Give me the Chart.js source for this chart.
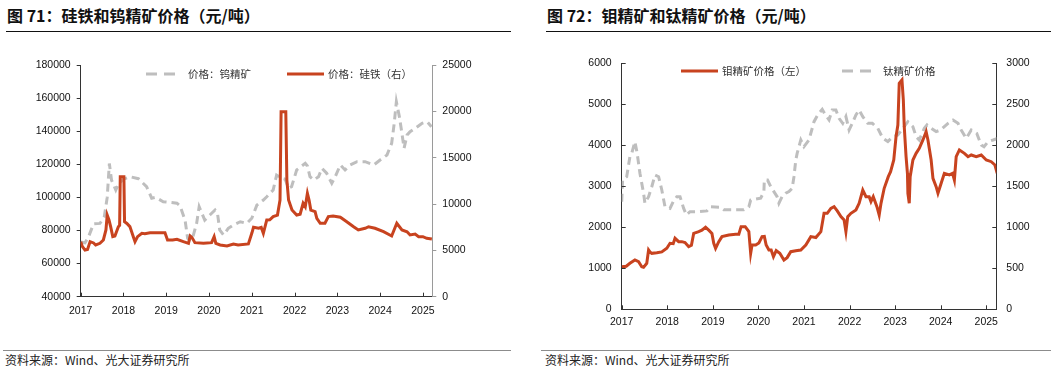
<!DOCTYPE html>
<html>
<head>
<meta charset="utf-8">
<script src="https://cdn.jsdelivr.net/npm/chart.js@4.4.1/dist/chart.umd.min.js"></script>
<style>
  body { margin: 0; background: #fff; width: 1055px; height: 371px; position: relative; overflow: hidden; font-family: "Noto Sans CJK SC", sans-serif; }
  .title { position: absolute; top: 4px; font-size: 16px; font-weight: bold; color: #111; line-height: 22px; white-space: nowrap; }
  .rule { position: absolute; height: 0; border-top: 1px solid #111; }
  .foot { position: absolute; height: 0; border-top: 1px solid #8c8c8c; }
  .src { position: absolute; top: 352px; font-size: 12px; color: #222; line-height: 16px; white-space: nowrap; }
  .legend { position: absolute; font-size: 10.5px; color: #333; line-height: 14px; white-space: nowrap; }
  .legend svg { position: absolute; top: 0; }
  .legend span { position: absolute; top: 0; }
  canvas { position: absolute; }
</style>
</head>
<body>

<div class="title" style="left:7px;">图 71：硅铁和钨精矿价格（元/吨）</div>
<div class="rule" style="left:6px; width:505px; top:31px;"></div>
<div class="title" style="left:547px;">图 72：钼精矿和钛精矿价格（元/吨）</div>
<div class="rule" style="left:546px; width:505px; top:31px;"></div>

<canvas id="chart71" width="520" height="290" style="left:0; top:40px;"></canvas>
<canvas id="chart72" width="525" height="300" style="left:530px; top:40px;"></canvas>

<!-- 图例 -->
<div class="legend" style="left:146px; top:67px;">
  <svg width="34" height="14"><line x1="0" y1="7" x2="32" y2="7" stroke="#bebebe" stroke-width="3" stroke-dasharray="11,7"/></svg>
  <span style="left:42px;">价格：钨精矿</span>
</div>
<div class="legend" style="left:287px; top:67px;">
  <svg width="38" height="14"><line x1="0" y1="7" x2="37" y2="7" stroke="#c8431f" stroke-width="3"/></svg>
  <span style="left:41px;">价格：硅铁（右）</span>
</div>
<div class="legend" style="left:681px; top:64px;">
  <svg width="38" height="14"><line x1="0" y1="7" x2="37" y2="7" stroke="#c8431f" stroke-width="3"/></svg>
  <span style="left:41px;">钼精矿价格（左）</span>
</div>
<div class="legend" style="left:842px; top:64px;">
  <svg width="32" height="14"><line x1="0" y1="7" x2="30" y2="7" stroke="#bebebe" stroke-width="3" stroke-dasharray="11,7"/></svg>
  <span style="left:41px;">钛精矿价格</span>
</div>

<div class="foot" style="left:3px; width:508px; top:350px;"></div>
<div class="src" style="left:5px;">资料来源：Wind、光大证券研究所</div>
<div class="foot" style="left:541px; width:510px; top:350px;"></div>
<div class="src" style="left:545px;">资料来源：Wind、光大证券研究所</div>

<script>
// ===== 图71 数据 =====
// 钨精矿价格（左轴，元/吨）
const tungstenX = [2017.00, 2017.10, 2017.18, 2017.30, 2017.45, 2017.55, 2017.62, 2017.67, 2017.72, 2017.82, 2017.88, 2018.00, 2018.15, 2018.35, 2018.54, 2018.66, 2018.75, 2018.93, 2019.25, 2019.32, 2019.44, 2019.50, 2019.60, 2019.71, 2019.77, 2019.90, 2020.02, 2020.14, 2020.20, 2020.25, 2020.34, 2020.45, 2020.57, 2020.73, 2020.88, 2021.00, 2021.12, 2021.27, 2021.35, 2021.50, 2021.58, 2021.70, 2021.78, 2021.86, 2021.93, 2022.05, 2022.25, 2022.30, 2022.36, 2022.45, 2022.56, 2022.64, 2022.75, 2022.87, 2022.95, 2023.07, 2023.18, 2023.30, 2023.46, 2023.65, 2023.85, 2024.00, 2024.16, 2024.27, 2024.33, 2024.38, 2024.45, 2024.51, 2024.56, 2024.63, 2024.70, 2024.82, 2024.98, 2025.10, 2025.20];
const tungstenY = [73000, 72500, 76000, 84000, 84300, 88000, 100000, 120500, 110500, 104500, 108000, 111000, 112500, 111300, 106500, 99500, 100000, 97400, 96500, 95000, 86300, 75300, 74000, 84300, 94400, 86300, 89400, 92400, 90000, 80300, 77300, 81300, 83300, 85300, 84300, 87400, 95400, 98400, 100400, 104500, 113500, 111500, 111000, 105500, 106500, 116600, 120600, 119000, 112500, 110500, 112500, 117600, 114600, 108500, 112500, 119600, 116600, 119600, 121600, 121600, 119600, 122600, 125600, 132700, 144800, 157800, 148800, 138700, 129700, 137700, 139700, 141700, 144800, 145700, 142700];

// 硅铁价格（右轴，元/吨）
const siliconX = [2017.00, 2017.04, 2017.10, 2017.16, 2017.22, 2017.30, 2017.35, 2017.45, 2017.53, 2017.59, 2017.62, 2017.66, 2017.70, 2017.75, 2017.80, 2017.88, 2017.91, 2017.925, 2018.01, 2018.025, 2018.08, 2018.15, 2018.23, 2018.27, 2018.33, 2018.43, 2018.50, 2018.62, 2018.97, 2019.03, 2019.15, 2019.25, 2019.40, 2019.52, 2019.56, 2019.60, 2019.67, 2019.87, 2020.06, 2020.12, 2020.16, 2020.26, 2020.42, 2020.57, 2020.68, 2020.92, 2021.00, 2021.04, 2021.16, 2021.22, 2021.27, 2021.35, 2021.42, 2021.50, 2021.60, 2021.66, 2021.685, 2021.795, 2021.82, 2021.86, 2021.94, 2022.05, 2022.13, 2022.20, 2022.25, 2022.30, 2022.34, 2022.38, 2022.48, 2022.52, 2022.60, 2022.71, 2022.79, 2022.90, 2023.07, 2023.22, 2023.38, 2023.49, 2023.65, 2023.73, 2023.88, 2024.08, 2024.27, 2024.39, 2024.51, 2024.63, 2024.70, 2024.82, 2024.90, 2025.00, 2025.09, 2025.21];
const siliconY = [5940, 5400, 5040, 5100, 5940, 5800, 5580, 5760, 6120, 7200, 8810, 8300, 7560, 6480, 6550, 7550, 7700, 12950, 12950, 8090, 7900, 7560, 6480, 5940, 6480, 6840, 6800, 6900, 6900, 6120, 6120, 6200, 5940, 5760, 6550, 6400, 5830, 5760, 5830, 6480, 5760, 5580, 5470, 5690, 5580, 5690, 6840, 7490, 7400, 7490, 6840, 8280, 8300, 8640, 8810, 10430, 19960, 19960, 12590, 10430, 9350, 8810, 8900, 10080, 9700, 11160, 10400, 9350, 9170, 8460, 7920, 7920, 8640, 8700, 8570, 8090, 7550, 7200, 7380, 7550, 7380, 7010, 6550, 7920, 7200, 7010, 6660, 6760, 6480, 6480, 6300, 6230];

// ===== 图72 数据 =====
// 钼精矿价格（左轴）
const molyX = [2017.00, 2017.10, 2017.18, 2017.29, 2017.37, 2017.44, 2017.48, 2017.55, 2017.59, 2017.62, 2017.66, 2017.77, 2017.88, 2017.99, 2018.06, 2018.13, 2018.17, 2018.25, 2018.32, 2018.39, 2018.47, 2018.53, 2018.58, 2018.69, 2018.76, 2018.84, 2018.91, 2018.98, 2019.02, 2019.06, 2019.13, 2019.20, 2019.35, 2019.50, 2019.57, 2019.62, 2019.71, 2019.79, 2019.83, 2019.86, 2019.94, 2020.01, 2020.08, 2020.13, 2020.17, 2020.23, 2020.28, 2020.33, 2020.39, 2020.47, 2020.56, 2020.63, 2020.71, 2020.82, 2020.93, 2021.04, 2021.15, 2021.26, 2021.37, 2021.44, 2021.51, 2021.59, 2021.66, 2021.73, 2021.81, 2021.88, 2021.92, 2021.96, 2022.03, 2022.14, 2022.21, 2022.29, 2022.36, 2022.43, 2022.47, 2022.52, 2022.60, 2022.65, 2022.69, 2022.76, 2022.85, 2022.90, 2022.97, 2023.02, 2023.06, 2023.09, 2023.15, 2023.18, 2023.20, 2023.24, 2023.27, 2023.28, 2023.31, 2023.33, 2023.39, 2023.46, 2023.53, 2023.61, 2023.68, 2023.72, 2023.79, 2023.83, 2023.90, 2023.94, 2024.01, 2024.08, 2024.19, 2024.26, 2024.30, 2024.34, 2024.41, 2024.52, 2024.60, 2024.67, 2024.78, 2024.89, 2025.00, 2025.11, 2025.19, 2025.24];
const molyY = [1039, 1050, 1122, 1202, 1160, 1039, 1024, 1122, 1446, 1400, 1365, 1380, 1400, 1488, 1610, 1600, 1732, 1650, 1650, 1630, 1528, 1560, 1854, 1894, 1930, 2000, 1930, 1850, 1610, 1488, 1650, 1772, 1813, 1830, 1830, 2016, 2016, 1894, 1365, 1569, 1569, 1620, 1772, 1780, 1569, 1447, 1447, 1284, 1430, 1365, 1202, 1260, 1406, 1430, 1447, 1569, 1772, 1750, 1894, 2341, 2341, 2463, 2504, 2400, 2260, 2178, 1894, 2260, 2341, 2422, 2585, 2910, 2747, 2747, 2626, 2747, 2504, 2300, 2585, 2951, 3235, 3357, 3642, 4210, 4495, 5512, 5593, 5106, 4454, 3722, 3317, 2829, 2585, 3235, 3642, 3804, 3927, 4130, 4332, 4130, 3642, 3195, 2991, 2829, 3073, 3317, 3280, 3317, 3154, 3722, 3886, 3804, 3722, 3764, 3722, 3764, 3642, 3600, 3520, 3317];

// 钛精矿价格（右轴）
const titaniumX = [2017.00, 2017.02, 2017.11, 2017.18, 2017.22, 2017.29, 2017.34, 2017.40, 2017.48, 2017.51, 2017.59, 2017.66, 2017.73, 2017.81, 2017.88, 2017.95, 2018.06, 2018.13, 2018.21, 2018.28, 2018.36, 2018.42, 2018.50, 2018.65, 2018.87, 2018.94, 2019.17, 2019.24, 2019.68, 2019.79, 2019.83, 2020.05, 2020.12, 2020.13, 2020.20, 2020.27, 2020.34, 2020.41, 2020.45, 2020.52, 2020.60, 2020.67, 2020.74, 2020.78, 2020.82, 2020.85, 2020.93, 2021.00, 2021.11, 2021.22, 2021.30, 2021.40, 2021.45, 2021.55, 2021.62, 2021.70, 2021.77, 2021.85, 2021.92, 2021.99, 2022.06, 2022.14, 2022.21, 2022.29, 2022.40, 2022.50, 2022.62, 2022.73, 2022.84, 2022.95, 2023.06, 2023.17, 2023.28, 2023.39, 2023.46, 2023.53, 2023.64, 2023.70, 2023.79, 2023.90, 2024.00, 2024.16, 2024.27, 2024.38, 2024.45, 2024.56, 2024.67, 2024.79, 2024.89, 2024.95, 2025.04, 2025.15, 2025.25];
const titaniumY = [1312, 1577, 1617, 1861, 1900, 2044, 1900, 1659, 1415, 1293, 1374, 1495, 1638, 1617, 1455, 1251, 1230, 1312, 1374, 1374, 1230, 1150, 1190, 1190, 1200, 1250, 1245, 1215, 1215, 1250, 1333, 1354, 1435, 1577, 1577, 1496, 1435, 1374, 1293, 1374, 1415, 1435, 1475, 1617, 1821, 1902, 2065, 1983, 2065, 2288, 2370, 2439, 2390, 2309, 2431, 2431, 2329, 2268, 2350, 2187, 2268, 2370, 2431, 2350, 2268, 2268, 2207, 2085, 2045, 2106, 2126, 2207, 2288, 2227, 2106, 2065, 2207, 2248, 2207, 2167, 2187, 2268, 2309, 2268, 2187, 2085, 2187, 2146, 2004, 1983, 2045, 2065, 2085];

const RED = '#c8431f';
const GREY = '#bebebe';
const TICK_FONT = { family: '"Liberation Sans", Arial, sans-serif', size: 10.5 };

// 把 x/y 两个数组拼成点
function toPoints(xs, ys) {
  return xs.map((x, i) => ({ x: x, y: ys[i] }));
}

// 向内的刻度线（坐标轴内侧）
const innerTicks = {
  id: 'innerTicks',
  afterDraw(chart, args, opts) {
    const ctx = chart.ctx;
    const len = opts.len || 4;
    ctx.save();
    ctx.lineWidth = 1;
    ctx.strokeStyle = opts.color || '#333';
    (opts.axes || []).forEach(id => {
      const s = chart.scales[id];
      s.ticks.forEach(t => {
        const p = Math.round(s.getPixelForValue(t.value)) + 0.5;
        ctx.beginPath();
        if (s.isHorizontal()) {
          ctx.moveTo(p, s.top);
          ctx.lineTo(p, s.top - len);
        } else if (s.position === 'left') {
          ctx.moveTo(s.right, p);
          ctx.lineTo(s.right + len, p);
        } else {
          ctx.moveTo(s.left, p);
          ctx.lineTo(s.left - len, p);
        }
        ctx.stroke();
      });
    });
    ctx.restore();
  }
};

function lineSet(label, points, color, axis, dashed) {
  return {
    label: label,
    data: points,
    borderColor: color,
    backgroundColor: color,
    borderWidth: 3,
    borderDash: dashed ? [8, 5] : [],
    pointRadius: 0,
    tension: 0,
    fill: false,
    yAxisID: axis
  };
}

function xScale(height, pad) {
  return {
    type: 'linear',
    min: 2017,
    max: 2025.22,
    afterFit: s => { s.height = height; },
    border: { display: true, color: '#333', width: 1 },
    grid: { display: true, drawOnChartArea: false, drawTicks: false },
    ticks: {
      stepSize: 1,
      includeBounds: false,
      maxRotation: 0,
      autoSkip: false,
      padding: pad,
      color: '#111',
      font: TICK_FONT,
      callback: v => String(v)
    }
  };
}

function yScale(pos, min, max, step, width, borderColor, outerTicks) {
  return {
    type: 'linear',
    position: pos,
    min: min,
    max: max,
    afterFit: s => { s.width = width; },
    border: { display: true, color: borderColor, width: 1 },
    grid: {
      display: true,
      drawOnChartArea: false,
      drawTicks: outerTicks,
      tickLength: 4,
      color: borderColor
    },
    ticks: {
      stepSize: step,
      padding: outerTicks ? 6 : 10,
      color: '#111',
      font: TICK_FONT,
      callback: v => String(v)
    }
  };
}

const baseOptions = {
  responsive: false,
  animation: false,
  events: [],
  plugins: { legend: { display: false }, tooltip: { enabled: false } }
};

// 图71：硅铁和钨精矿
new Chart(document.getElementById('chart71'), {
  type: 'line',
  data: {
    datasets: [
      lineSet('价格：硅铁（右）', toPoints(siliconX, siliconY), RED, 'yR', false),
      lineSet('价格：钨精矿', toPoints(tungstenX, tungstenY), GREY, 'yL', true)
    ]
  },
  options: Object.assign({}, baseOptions, {
    layout: { padding: { top: 25, left: 0, right: 0, bottom: 0 } },
    plugins: Object.assign({}, baseOptions.plugins, {
      innerTicks: { axes: ['x'], len: 4, color: '#333' }
    }),
    scales: {
      x: xScale(33.3, 8),
      yL: yScale('left', 40000, 180000, 20000, 80.7, '#333', true),
      yR: yScale('right', 0, 25000, 5000, 87.7, '#9a9a9a', true)
    }
  }),
  plugins: [innerTicks]
});

// 图72：钼精矿和钛精矿
new Chart(document.getElementById('chart72'), {
  type: 'line',
  data: {
    datasets: [
      lineSet('钼精矿价格（左）', toPoints(molyX, molyY), RED, 'yL', false),
      lineSet('钛精矿价格', toPoints(titaniumX, titaniumY), GREY, 'yR', true)
    ]
  },
  options: Object.assign({}, baseOptions, {
    layout: { padding: { top: 23.3, left: 0, right: 0, bottom: 0 } },
    plugins: Object.assign({}, baseOptions.plugins, {
      innerTicks: { axes: ['x', 'yL', 'yR'], len: 4, color: '#333' }
    }),
    scales: {
      x: xScale(30.7, 7),
      yL: yScale('left', 0, 6000, 1000, 91.7, '#333', false),
      yR: yScale('right', 0, 3000, 500, 58.7, '#333', false)
    }
  }),
  plugins: [innerTicks]
});
</script>
</body>
</html>
